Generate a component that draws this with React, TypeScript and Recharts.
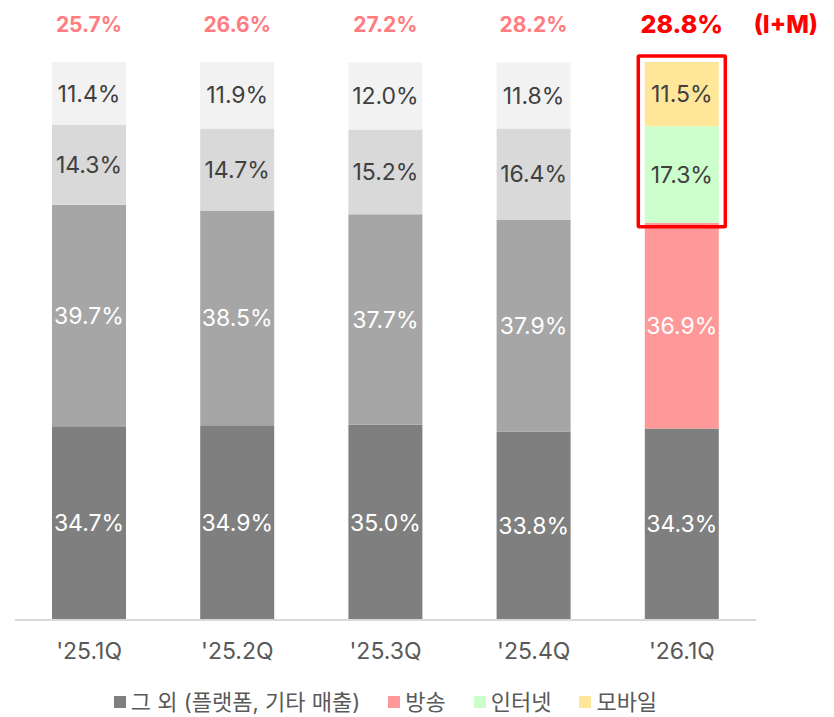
import React from "react";
import { BarChart, Bar, XAxis, YAxis, Cell, LabelList, Legend } from "recharts";

const categories = ["'25.1Q", "'25.2Q", "'25.3Q", "'25.4Q", "'26.1Q"];
const etcShare = [34.7, 34.9, 35.0, 33.8, 34.3];
const broadcastShare = [39.7, 38.5, 37.7, 37.9, 36.9];
const internetShare = [14.3, 14.7, 15.2, 16.4, 17.3];
const mobileShare = [11.4, 11.9, 12.0, 11.8, 11.5];
const imShare = [25.7, 26.6, 27.2, 28.2, 28.8];
const seriesNames = ["그 외 (플랫폼, 기타 매출)", "방송", "인터넷", "모바일"];

const etcColors = ["#7f7f7f", "#7f7f7f", "#7f7f7f", "#7f7f7f", "#7f7f7f"];
const broadcastColors = ["#a6a6a6", "#a6a6a6", "#a6a6a6", "#a6a6a6", "#ff9999"];
const internetColors = ["#d9d9d9", "#d9d9d9", "#d9d9d9", "#d9d9d9", "#ccffcc"];
const mobileColors = ["#f2f2f2", "#f2f2f2", "#f2f2f2", "#f2f2f2", "#ffe699"];
const legendColors = ["#7f7f7f", "#ff9999", "#ccffcc", "#ffe699"];

const data = categories.map((c, i) => ({
  name: c,
  etc: etcShare[i],
  broadcast: broadcastShare[i],
  internet: internetShare[i],
  mobile: mobileShare[i],
  im: imShare[i],
}));

const FONT = "Inter, 'Noto Sans CJK KR', sans-serif";
const fmt = (v: any) => `${Number(v).toFixed(1)}%`;

const TopLabel = (props: any) => {
  const { x, y, width, height, index } = props;
  const last = index === categories.length - 1;
  const cx = x + width / 2;
  const internetH = height * (internetShare[index] / mobileShare[index]);
  return (
    <g>
      <text
        x={cx}
        y={y - 38}
        textAnchor="middle"
        dominantBaseline="central"
        fontFamily={FONT}
        fontSize={last ? 25 : 21}
        fontWeight={last ? 800 : 700}
        fill={last ? "#ff0000" : "#ff7c80"}
      >
        {fmt(imShare[index])}
      </text>
      {last && (
        <>
          <text
            x={x + width + 67}
            y={y - 38}
            textAnchor="middle"
            dominantBaseline="central"
            fontFamily={FONT}
            fontSize={24}
            fontWeight={800}
            fill="#ff0000"
          >
            (I+M)
          </text>
          <rect
            x={x - 6.5}
            y={y - 6}
            width={width + 13}
            height={height + internetH + 10}
            fill="none"
            stroke="#ff0000"
            strokeWidth={3.5}
            rx={1}
          />
        </>
      )}
    </g>
  );
};

const LegendContent = () => (
  <div
    style={{
      display: "flex",
      justifyContent: "center",
      alignItems: "center",
      gap: 28,
      height: 36,
      fontFamily: FONT,
      fontSize: 22,
      lineHeight: "36px",
      color: "#595959",
      whiteSpace: "nowrap",
    }}
  >
    {seriesNames.map((n, i) => (
      <div key={n} style={{ display: "flex", alignItems: "center" }}>
        <span
          style={{
            display: "inline-block",
            width: 12,
            height: 12,
            background: legendColors[i],
            marginRight: 5,
          }}
        />
        <span>{n}</span>
      </div>
    ))}
  </div>
);

export default function App() {
  const labelStyle = { fontFamily: FONT, fontSize: 23 };
  return (
    <div style={{ position: "absolute", left: 0, top: 0, background: "#fff" }}>
      <BarChart
        width={834}
        height={717}
        data={data}
        margin={{ top: 62, right: 78, bottom: 67, left: 15 }}
        barSize={74}
      >
        <XAxis
          dataKey="name"
          axisLine={{ stroke: "#d9d9d9", strokeWidth: 2 }}
          tickLine={false}
          tickMargin={17}
          tick={{ fill: "#595959", fontSize: 23, fontFamily: FONT }}
          interval={0}
        />
        <YAxis hide domain={[0, 100]} allowDataOverflow />
        <Legend
          layout="horizontal"
          verticalAlign="middle"
          align="center"
          content={<LegendContent />}
          wrapperStyle={{ top: 684, left: 15, width: 741, height: 36 }}
        />
        <Bar dataKey="etc" stackId="a" isAnimationActive={false}>
          {data.map((d, i) => (
            <Cell key={i} fill={etcColors[i]} />
          ))}
          <LabelList dataKey="etc" position="center" formatter={fmt} fill="#ffffff" style={labelStyle} />
        </Bar>
        <Bar dataKey="broadcast" stackId="a" isAnimationActive={false}>
          {data.map((d, i) => (
            <Cell key={i} fill={broadcastColors[i]} />
          ))}
          <LabelList dataKey="broadcast" position="center" formatter={fmt} fill="#ffffff" style={labelStyle} />
        </Bar>
        <Bar dataKey="internet" stackId="a" isAnimationActive={false}>
          {data.map((d, i) => (
            <Cell key={i} fill={internetColors[i]} />
          ))}
          <LabelList dataKey="internet" position="center" formatter={fmt} fill="#404040" style={labelStyle} />
        </Bar>
        <Bar dataKey="mobile" stackId="a" isAnimationActive={false}>
          {data.map((d, i) => (
            <Cell key={i} fill={mobileColors[i]} />
          ))}
          <LabelList dataKey="mobile" position="center" formatter={fmt} fill="#404040" style={labelStyle} />
          <LabelList dataKey="im" content={<TopLabel />} />
        </Bar>
      </BarChart>
    </div>
  );
}
